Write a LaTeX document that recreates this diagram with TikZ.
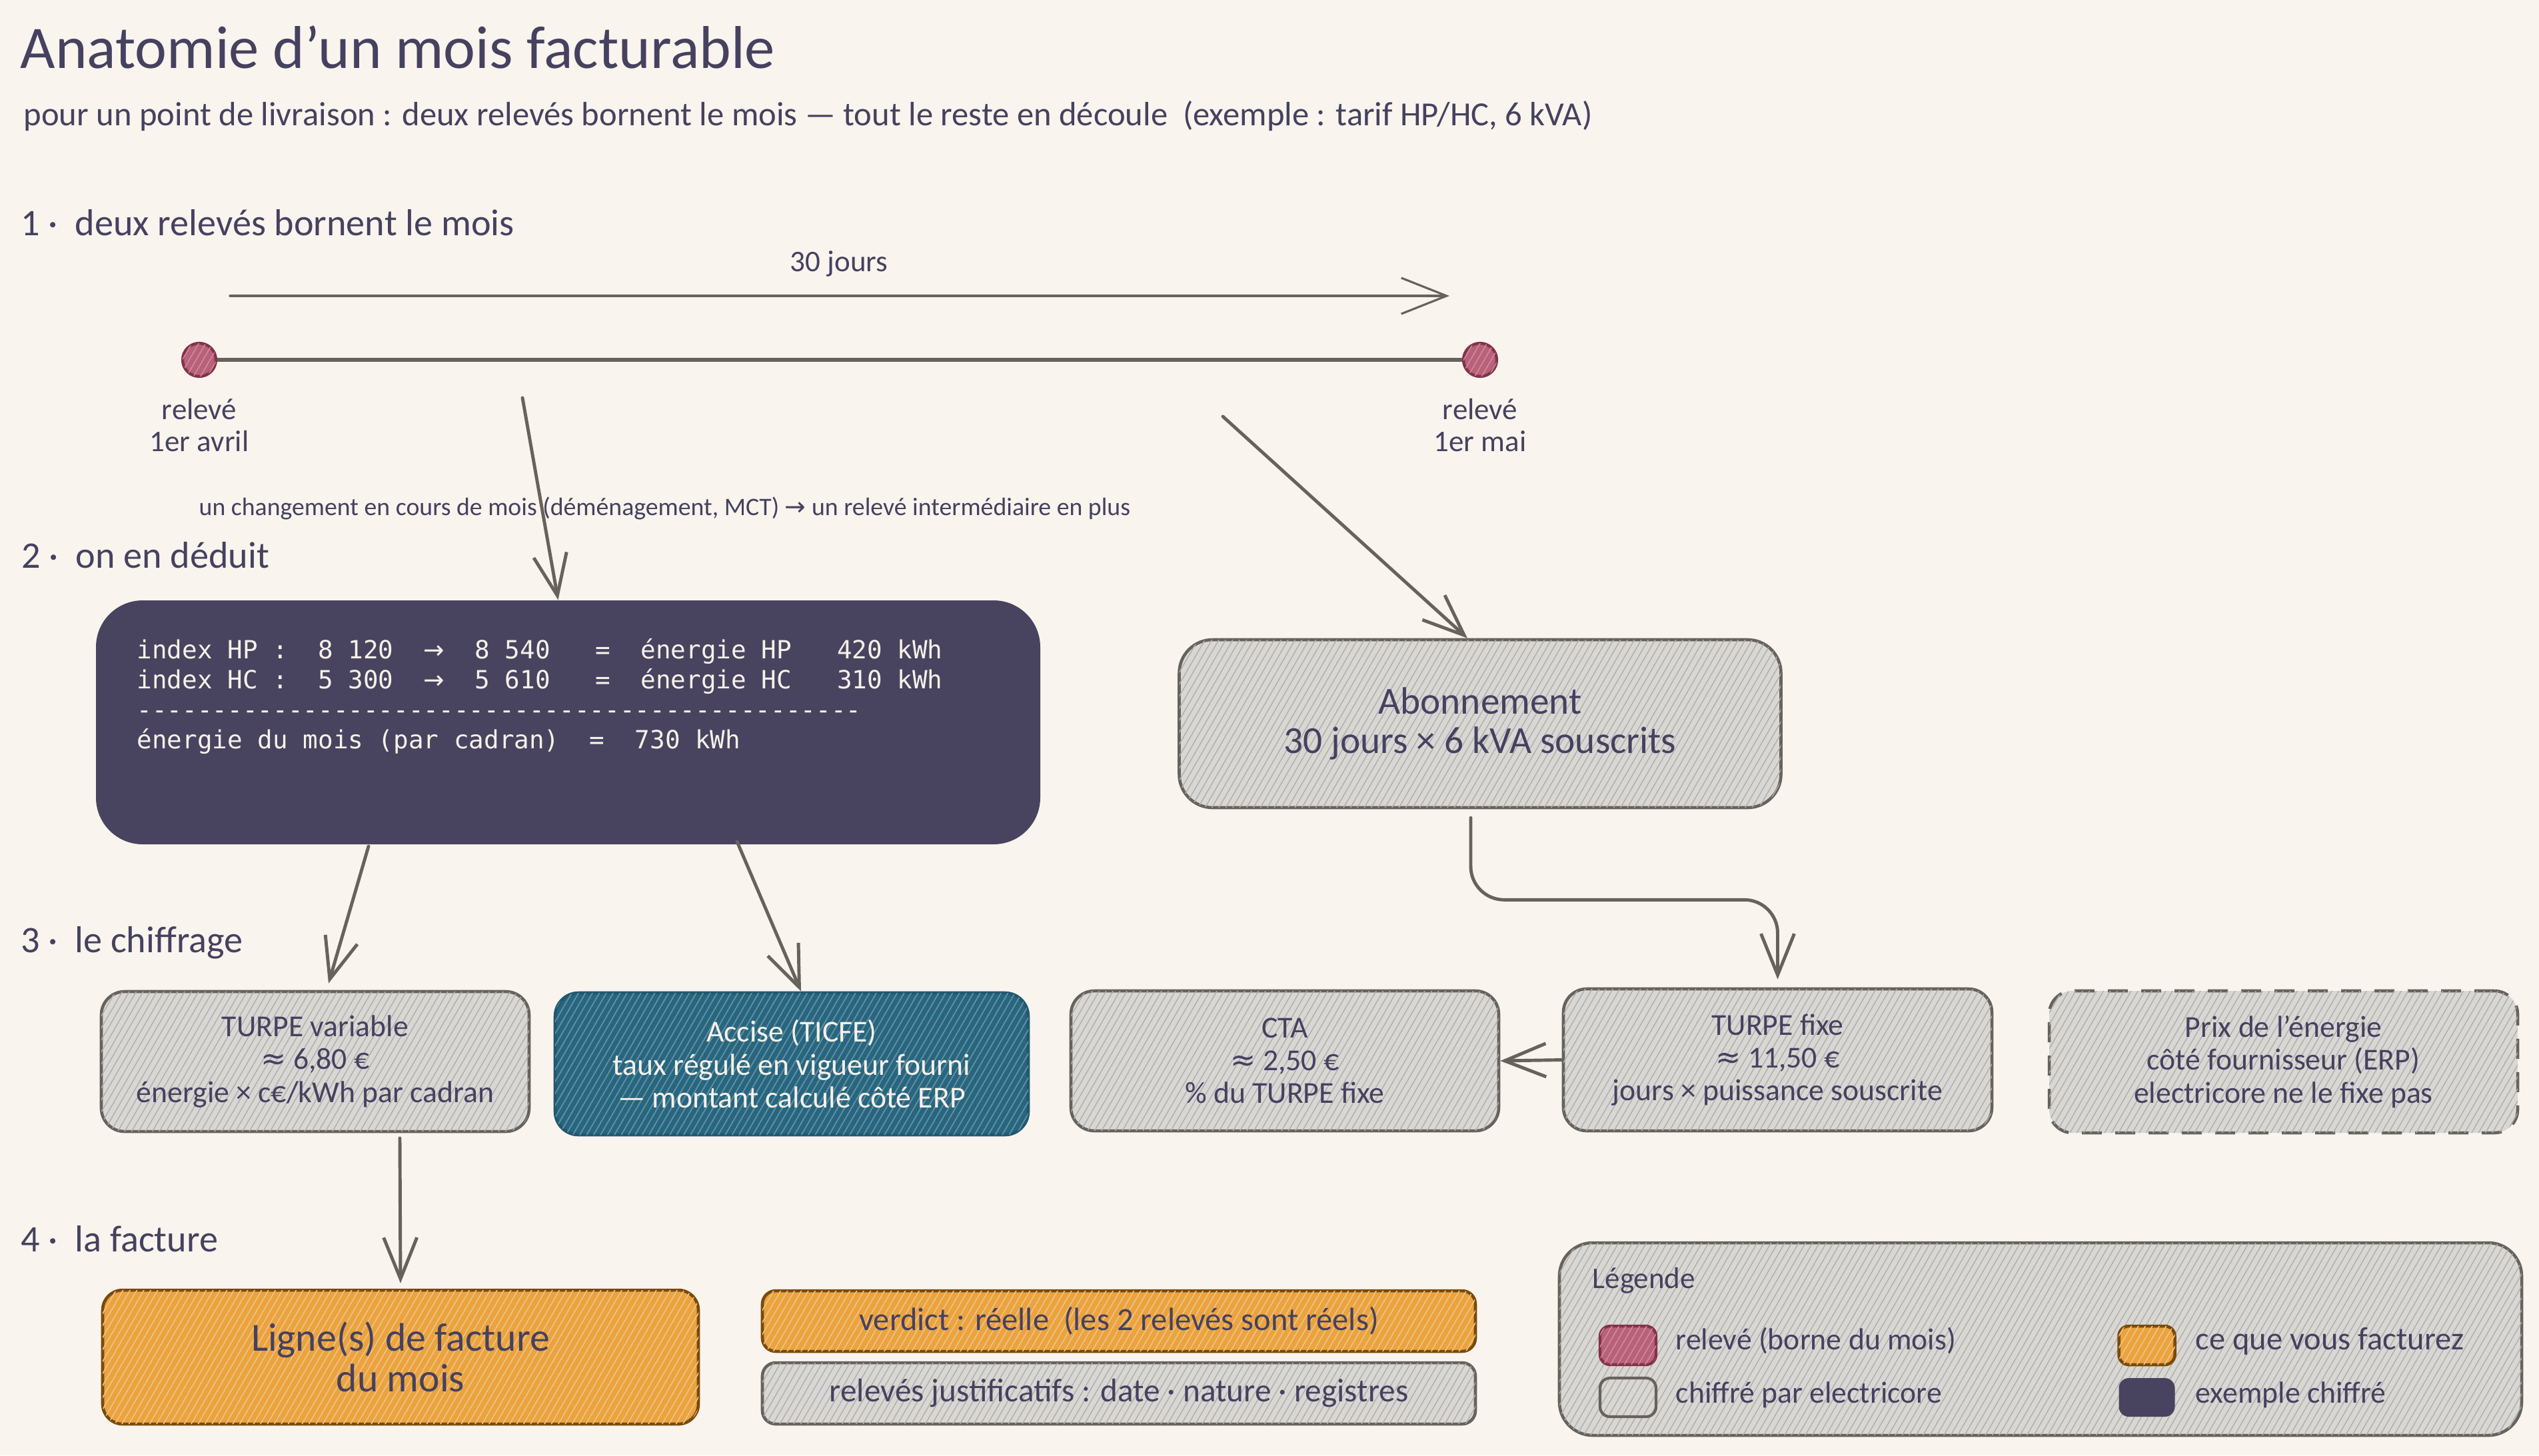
\documentclass[tikz,border=0pt]{standalone}
\usepackage{fontspec}
\setmainfont{Carlito}
\setmonofont{DejaVu Sans Mono}
\newfontfamily\symb{DejaVu Sans}
\usetikzlibrary{arrows.meta,patterns.meta}

\definecolor{fond}{HTML}{F9F4ED}
\definecolor{encre}{HTML}{45415F}
\definecolor{trait}{HTML}{67625C}
\definecolor{gris}{HTML}{D9D7D4}
\definecolor{grishachure}{HTML}{B0AEAA}
\definecolor{nuit}{HTML}{48445F}
\definecolor{rose}{HTML}{B8627A}
\definecolor{rosebord}{HTML}{82324B}
\definecolor{rosehachure}{HTML}{D58CA0}
\definecolor{ambre}{HTML}{ECA33C}
\definecolor{ambrebord}{HTML}{7A4A0A}
\definecolor{ambrehachure}{HTML}{F5C584}
\definecolor{canard}{HTML}{266680}
\definecolor{canardbord}{HTML}{1F5870}
\definecolor{canardhachure}{HTML}{5F8C9E}
\definecolor{creme}{HTML}{F6F1EA}

\newcommand{\fleche}{{\symb →}}
\newcommand{\envi}{{\symb ≈}}

\tikzset{
  hachures/.style={postaction={pattern={Lines[angle=60,distance=0.9mm,line width=0.4pt]},pattern color=#1}},
  boite/.style={draw=trait, line width=1.3pt, fill=gris, hachures=grishachure, rounded corners=3.5mm,
    align=center, text=encre, inner sep=0pt, font=\fontsize{13}{14}\selectfont},
  sombre/.style={fill=nuit, rounded corners=7mm, inner sep=0pt},
  canardbox/.style={boite, draw=canardbord, fill=canard, hachures=canardhachure, text=creme},
  ambrebox/.style={boite, draw=ambrebord, fill=ambre, hachures=ambrehachure},
  borne/.style={circle, minimum size=5mm, inner sep=0pt, draw=rosebord, line width=1.2pt, fill=rose, hachures=rosehachure},
  titre/.style={anchor=base west, inner sep=0pt, text=encre, font=\fontsize{25.8}{30}\selectfont},
  section/.style={anchor=base west, inner sep=0pt, text=encre, font=\fontsize{16}{19}\selectfont},
  texte/.style={inner sep=0pt, text=encre, align=center, font=\fontsize{12.8}{13.4}\selectfont},
  lien/.style={draw=trait, line width=1.4pt, line cap=round, -{Straight Barb[length=6.2mm,width=5mm]}},
}

\begin{document}
\begin{tikzpicture}[y=-1cm]
  \fill[fond] (0,0) rectangle (38.10,21.84);
  \useasboundingbox (0,0) rectangle (38.10,21.84);

  % Titre
  \node[titre] (titre) at (0.30,1.02) {Anatomie d'un mois facturable};
  \node[section, font=\fontsize{14.4}{16}\selectfont] (soustitre) at (0.35,1.88)
    {pour un point de livraison : deux relevés bornent le mois — tout le reste en découle\ \ (exemple : tarif HP/HC, 6 kVA)};

  % Relevés
  \node[section] (s1) at (0.31,3.53) {1 ·\ \ deux relevés bornent le mois};
  \coordinate (j0) at (3.45,4.44);
  \coordinate (j1) at (21.75,4.44);
  \draw[draw=trait, line width=0.9pt, line cap=round, -{Straight Barb[length=6.8mm,width=5.4mm]}] (j0) -- (j1);
  \node[texte, anchor=base] (jours) at (12.59,4.07) {30 jours};
  \node[borne] (r1) at (2.99,5.40) {};
  \node[borne] (r2) at (22.21,5.40) {};
  \draw[trait, line width=1.8pt] (r1) -- (r2);
  \node[texte, anchor=north] (e1) at (2.99,5.98) {relevé\\1er avril};
  \node[texte, anchor=north] (e2) at (22.21,5.98) {relevé\\1er mai};
  \node[texte, anchor=base west, font=\fontsize{10.75}{12}\selectfont] (mct) at (2.98,7.73)
    {un changement en cours de mois (déménagement, MCT) \fleche{} un relevé intermédiaire en plus};

  % Déduction
  \node[section] (s2) at (0.32,8.52) {2 ·\ \ on en déduit};
  \node[sombre, minimum width=14.17cm, minimum height=3.66cm] (energie) at (8.525,10.84) {};
  \node[anchor=north west, inner sep=0pt, text=creme, align=left, font=\ttfamily\fontsize{10.7}{12.8}\selectfont] (index) at (2.05,9.58)
    {index~HP~:~~8~120~~\fleche~~8~540~~~=~~énergie~HP~~~420~kWh\\
     index~HC~:~~5~300~~\fleche~~5~610~~~=~~énergie~HC~~~310~kWh\\
     \foreach \i in {1,...,48}{-}\\
     énergie~du~mois~(par~cadran)~~=~~730~kWh};
  \node[boite, rounded corners=5mm, minimum width=9.03cm, minimum height=2.52cm,
    font=\fontsize{16.3}{16.6}\selectfont] (abo) at (22.21,10.86) {Abonnement\\30 jours × 6 kVA souscrits};
  \coordinate (a1) at (7.84,5.97);
  \coordinate (a2) at (18.35,6.25);
  \draw[lien] (a1) -- ([xshift=-1.5mm]energie.north);
  \draw[lien] (a2) -- ([xshift=-1.9mm]abo.north);

  % Chiffrage
  \node[section] (s3) at (0.31,14.29) {3 ·\ \ le chiffrage};
  \node[boite, minimum width=6.42cm, minimum height=2.10cm] (tvar) at (4.73,15.93)
    {TURPE variable\\\envi{} 6,80 €\\énergie × c€/kWh par cadran};
  \node[canardbox, minimum width=7.10cm, minimum height=2.13cm] (accise) at (11.88,15.965)
    {Accise (TICFE)\\taux régulé en vigueur fourni\\— montant calculé côté ERP};
  \node[boite, minimum width=6.42cm, minimum height=2.10cm] (cta) at (19.28,15.92)
    {CTA\\\envi{} 2,50 €\\\% du TURPE fixe};
  \node[boite, minimum width=6.43cm, minimum height=2.13cm] (tfixe) at (26.675,15.905)
    {TURPE fixe\\\envi{} 11,50 €\\jours × puissance souscrite};
  \node[boite, dash pattern=on 3mm off 2mm, minimum width=7.03cm, minimum height=2.13cm] (prix) at (34.265,15.935)
    {Prix de l'énergie\\côté fournisseur (ERP)\\electricore ne le fixe pas};
  \coordinate (d1) at (5.53,12.70);
  \coordinate (d2) at (11.06,12.63);
  \draw[lien] (d1) -- ([xshift=2mm,yshift=1mm]tvar.north);
  \draw[lien] (d2) -- ([xshift=1.4mm]accise.north);
  \draw[lien, rounded corners=5mm] ([xshift=-1.4mm,yshift=-1.3mm]abo.south) -- ++(0,1.23) -| ([yshift=1.2mm]tfixe.north);
  \draw[lien] (tfixe.west) -- (cta.east);

  % Facture
  \node[section] (s4) at (0.31,18.78) {4 ·\ \ la facture};
  \node[ambrebox, rounded corners=3mm, minimum width=8.94cm, minimum height=2.01cm,
    font=\fontsize{17}{17.5}\selectfont] (ligne) at (6.01,20.365) {Ligne(s) de facture\\du mois};
  \node[ambrebox, rounded corners=2mm, minimum width=10.70cm, minimum height=0.91cm,
    font=\fontsize{13.8}{14}\selectfont] (verdict) at (16.79,19.825) {verdict : réelle\ \ (les 2 relevés sont réels)};
  \node[boite, rounded corners=2mm, minimum width=10.70cm, minimum height=0.92cm,
    font=\fontsize{14}{14}\selectfont] (justif) at (16.79,20.91) {relevés justificatifs : date · nature · registres};
  \coordinate (d3) at (6.00,17.08);
  \draw[lien] (d3) -- ([yshift=0.8mm]ligne.north);

  % Légende
  \node[boite, rounded corners=5mm, minimum width=14.44cm, minimum height=2.89cm] (leg) at (30.62,20.095) {};
  \node[texte, anchor=base west] (legtitre) at (23.89,19.33) {Légende};
  \node[borne, rectangle, rounded corners=1.5mm, minimum width=8.4mm, minimum height=5.8mm] (c1) at (24.43,20.19) {};
  \node[draw=trait, line width=1.2pt, rounded corners=1.5mm, minimum width=8.4mm, minimum height=5.8mm, inner sep=0pt] (c2) at (24.43,20.97) {};
  \node[ambrebox, rounded corners=1.5mm, minimum width=8.4mm, minimum height=5.8mm] (c3) at (32.215,20.19) {};
  \node[sombre, rounded corners=1.5mm, minimum width=8.4mm, minimum height=5.8mm] (c4) at (32.215,20.97) {};
  \node[texte, anchor=base west, font=\fontsize{13}{14}\selectfont] (l1) at (25.14,20.25) {relevé (borne du mois)};
  \node[texte, anchor=base west, font=\fontsize{13}{14}\selectfont] (l2) at (25.14,21.05) {chiffré par electricore};
  \node[texte, anchor=base west, font=\fontsize{13.8}{14}\selectfont] (l3) at (32.94,20.25) {ce que vous facturez};
  \node[texte, anchor=base west, font=\fontsize{13}{14}\selectfont] (l4) at (32.94,21.05) {exemple chiffré};
\end{tikzpicture}
\end{document}
